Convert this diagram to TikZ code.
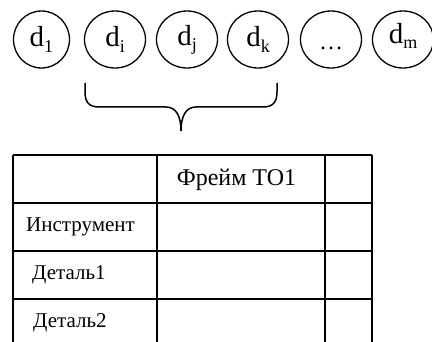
\documentclass[tikz,border=0pt]{standalone}
\usepackage{fontspec}
\setmainfont{Liberation Serif}
\usetikzlibrary{shapes.geometric}
\newcommand{\dsub}[1]{d\raisebox{-0.18em}{\fontsize{18}{18}\selectfont #1}}
\begin{document}
\begin{tikzpicture}[x=1pt,y=-1pt,
  elem/.style={ellipse,draw,line width=1.3pt,minimum width=61pt,minimum height=57pt,inner sep=0pt,font=\fontsize{29}{29}\selectfont},
  grid/.style={line width=1.8pt},
  brace/.style={line width=1.5pt},
  cell/.style={inner sep=0pt,anchor=west,font=\fontsize{21}{21}\selectfont},
  head/.style={inner sep=0pt,font=\fontsize{24}{24}\selectfont}]
\useasboundingbox (0,0) rectangle (432,342);
% elements
\node[elem,minimum width=56pt] (d1) at (41.5,39.5) {\dsub{1}};
\node[elem] (di) at (115,39.5) {\dsub{i}};
\node[elem] (dj) at (187,39.5) {\dsub{j}};
\node[elem] (dk) at (258,39.5) {\dsub{k}};
\node[elem] (dd) at (331,39.5) {\vphantom{d}\fontsize{24}{24}\selectfont …};
\node[elem] (dm) at (403,39.5) {\raisebox{12pt}{\dsub{m}}};
% brace
\draw[brace] (85,83) -- (85,92) .. controls (85,102) and (89,107) .. (99,107)
  -- (166,107) .. controls (176,107) and (181,116) .. (181,131);
\draw[brace] (277,83) -- (277,92) .. controls (277,102) and (273,107) .. (263,107)
  -- (196,107) .. controls (186,107) and (181,116) .. (181,131);
% table
\draw[grid] (13,155) -- (372,155);
\draw[grid] (13,203) -- (372,203);
\draw[grid] (13,251) -- (372,251);
\draw[grid] (13,299) -- (372,299);
\draw[grid] (13,155) -- (13,345);
\draw[grid] (157,155) -- (157,345);
\draw[grid] (325,155) -- (325,345);
\draw[grid] (372,155) -- (372,345);
\node[head] (h) at (236.5,180) {Фрейм ТО1};
\node[cell] (r1) at (26,227) {Инструмент};
\node[cell] (r2) at (32,275) {Деталь1};
\node[cell] (r3) at (33,323) {Деталь2};
\end{tikzpicture}
\end{document}
